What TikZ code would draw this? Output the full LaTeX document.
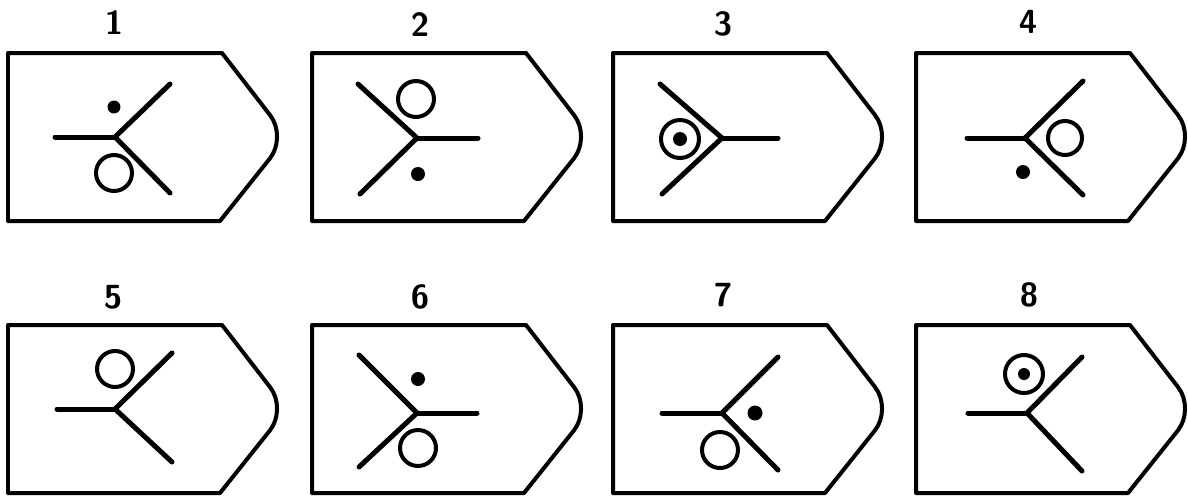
\documentclass[tikz,border=0pt]{standalone}
\usepackage{tikz}
\usetikzlibrary{calc}

\tikzset{
  outline/.style={line width=0.08cm, line join=round},
  arm/.style={line width=0.1cm, line cap=round},
  ring/.style={line width=0.08cm},
  spot/.style={fill=black},
  numlabel/.style={font=\sffamily\bfseries\fontsize{19}{22}\selectfont}
}

% tag outline, origin at the top left corner
\newcommand{\tagoutline}{%
  \draw[outline] (0,0) -- (214,0) [rounded corners=0.55cm] -- (279,84)
    [sharp corners] -- (212,168) -- (0,168) -- cycle;
}

\begin{document}
\begin{tikzpicture}[x=0.02cm,y=-0.02cm]
  \useasboundingbox (0,0) rectangle (1188,498);

  % column and row offsets
  \def\colA{8}   \def\colB{312} \def\colC{613} \def\colD{916}
  \def\rowA{53}  \def\rowB{325}

  % 1
  \begin{scope}[shift={(\colA,\rowA)}]
    \tagoutline
    \node[numlabel] (n1) at (106,-30) {1};
    \coordinate (j1) at (107,84);
    \draw[arm] (j1) -- ++(-60,0);
    \draw[arm] (j1) -- ++(55,-53);
    \draw[arm] (j1) -- ++(55,56);
    \fill[spot] (106,54) circle (6.5);
    \draw[ring] (106,120) circle (18);
  \end{scope}

  % 2
  \begin{scope}[shift={(\colB,\rowA)}]
    \tagoutline
    \node[numlabel] (n2) at (108,-28) {2};
    \coordinate (j2) at (105,85);
    \draw[arm] (j2) -- ++(61,0);
    \draw[arm] (j2) -- ++(-59,-54);
    \draw[arm] (j2) -- ++(-57,56);
    \draw[ring] (104,46) circle (18);
    \fill[spot] (106,121) circle (7);
  \end{scope}

  % 3
  \begin{scope}[shift={(\colC,\rowA)}]
    \tagoutline
    \node[numlabel] (n3) at (110,-29) {3};
    \coordinate (j3) at (109,85);
    \draw[arm] (j3) -- ++(56,0);
    \draw[arm] (j3) -- ++(-62,-54);
    \draw[arm] (j3) -- ++(-60,56);
    \draw[ring] (67,86) circle (19);
    \fill[spot] (67,86) circle (7);
  \end{scope}

  % 4
  \begin{scope}[shift={(\colD,\rowA)}]
    \tagoutline
    \node[numlabel] (n4) at (112,-31) {4};
    \coordinate (j4) at (109,85);
    \draw[arm] (j4) -- ++(-58,0);
    \draw[arm] (j4) -- ++(58,-57);
    \draw[arm] (j4) -- ++(58,57);
    \draw[ring] (149,85) circle (17);
    \fill[spot] (107,119) circle (7);
  \end{scope}

  % 5
  \begin{scope}[shift={(\colA,\rowB)}]
    \tagoutline
    \node[numlabel] (n5) at (105,-28) {5};
    \coordinate (j5) at (107,84);
    \draw[arm] (j5) -- ++(-58,0);
    \draw[arm] (j5) -- ++(57,-56);
    \draw[arm] (j5) -- ++(57,53);
    \draw[ring] (107,44) circle (18);
  \end{scope}

  % 6
  \begin{scope}[shift={(\colB,\rowB)}]
    \tagoutline
    \node[numlabel] (n6) at (108,-28) {6};
    \coordinate (j6) at (105,88);
    \draw[arm] (j6) -- ++(60,0);
    \draw[arm] (j6) -- ++(-58,-58);
    \draw[arm] (j6) -- ++(-58,54);
    \fill[spot] (106,54) circle (7);
    \draw[ring] (106,123) circle (18);
  \end{scope}

  % 7
  \begin{scope}[shift={(\colC,\rowB)}]
    \tagoutline
    \node[numlabel] (n7) at (110,-30) {7};
    \coordinate (j7) at (109,88);
    \draw[arm] (j7) -- ++(-60,0);
    \draw[arm] (j7) -- ++(56,-56);
    \draw[arm] (j7) -- ++(56,57);
    \fill[spot] (142,88) circle (7.5);
    \draw[ring] (107,125) circle (18);
  \end{scope}

  % 8
  \begin{scope}[shift={(\colD,\rowB)}]
    \tagoutline
    \node[numlabel] (n8) at (113,-30) {8};
    \coordinate (j8) at (111,88);
    \draw[arm] (j8) -- ++(-59,0);
    \draw[arm] (j8) -- ++(55,-56);
    \draw[arm] (j8) -- ++(55,58);
    \draw[ring] (108,49) circle (19);
    \fill[spot] (108,49) circle (6);
  \end{scope}
\end{tikzpicture}
\end{document}
